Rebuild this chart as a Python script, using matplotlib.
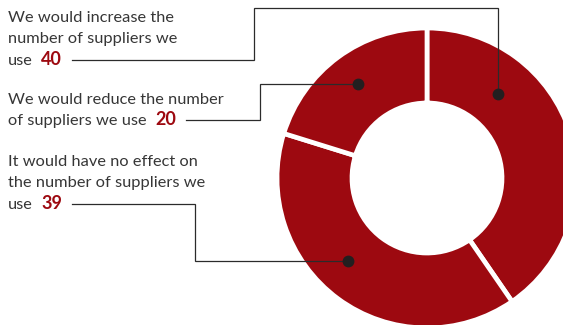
import matplotlib
matplotlib.use('Agg')
import numpy as np
import matplotlib.pyplot as plt

plt.rcParams['font.family'] = ['Lato', 'DejaVu Sans']

# Ответы (в порядке по часовой стрелке от верха кольца)
values = [40, 39, 20]
labels = [
    ['We would increase the', 'number of suppliers we', 'use'],
    ['It would have no effect on', 'the number of suppliers we', 'use'],
    ['We would reduce the number', 'of suppliers we use'],
]

RED = '#9d0910'
TEXT = '#363636'
LINE = '#2b2b2b'

W, H = 563, 325
fig = plt.figure(figsize=(W / 100, H / 100), dpi=100)
ax = fig.add_axes([0, 0, 1, 1])

# Кольцо
cx, cy = 427, 178
R_out, R_in = 150, 75
wedges, _ = ax.pie(values, startangle=-90, counterclock=True, colors=[RED] * 3,
                   radius=R_out, center=(cx, cy),
                   wedgeprops=dict(width=R_out - R_in, edgecolor='white', linewidth=3.4))
ax.set_xlim(0, W)
ax.set_ylim(H, 0)
ax.set_aspect('equal')
ax.axis('off')

# Подписи: положение первой строки, точка на сегменте, изгиб линии
first_baseline = [22, 166, 104]
anchor_frac = [0.275, 0.55, 0.5]
anchor_r = [110, 115, 117]
elbow_x = [254, 195, 260]
top_y = [8, None, None]
line_step = 21.3

fig.canvas.draw()
renderer = fig.canvas.get_renderer()
inv = ax.transData.inverted()

for k, (val, lines) in enumerate(zip(values, labels)):
    y0 = first_baseline[k]
    last = None
    for i, ln in enumerate(lines):
        last = ax.text(8, y0 + i * line_step, ln, fontsize=11.8, color=TEXT,
                       ha='left', va='baseline')
    num = ax.annotate(str(val), xy=(1, 0), xycoords=last, xytext=(6, 0),
                      textcoords='offset points', ha='left', va='bottom',
                      fontsize=13, fontweight='bold', color=RED)
    fig.canvas.draw()
    bb = num.get_window_extent(renderer)
    x_end = inv.transform((bb.x1, bb.y0))[0]
    y_mid = y0 + (len(lines) - 1) * line_step - 5

    w = wedges[k]
    ang = np.deg2rad(w.theta1 + anchor_frac[k] * (w.theta2 - w.theta1))
    dx, dy = cx + anchor_r[k] * np.cos(ang), cy + anchor_r[k] * np.sin(ang)

    if top_y[k] is not None:
        xs = [x_end + 10, elbow_x[k], elbow_x[k], dx, dx]
        ys = [y_mid, y_mid, top_y[k], top_y[k], dy]
    else:
        xs = [x_end + 10, elbow_x[k], elbow_x[k], dx]
        ys = [y_mid, y_mid, dy, dy]
    ax.plot(xs, ys, color=LINE, lw=0.9, solid_joinstyle='miter')
    ax.plot(dx, dy, 'o', color='#231f20', markersize=7.5)

fig.savefig('out.png', dpi=100)
